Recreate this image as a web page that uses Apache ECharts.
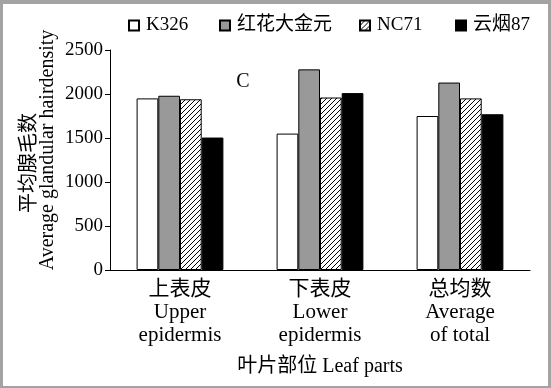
<!DOCTYPE html>
<html>
<head>
<meta charset="utf-8">
<script src="https://cdn.jsdelivr.net/npm/echarts@6/dist/echarts.min.js"></script>
<style>
html,body{margin:0;padding:0;background:#fff;}
#chart{width:551px;height:388px;}
</style>
</head>
<body>
<div id="chart"></div>
<script>
const categories = ['上表皮\nUpper\nepidermis', '下表皮\nLower\nepidermis', '总均数\nAverage\nof total'];
const seriesNames = ['K326', '红花大金元', 'NC71', '云烟87'];
const k326 = [1950, 1550, 1750];
const honghua = [1980, 2280, 2130];
const nc71 = [1940, 1960, 1950];
const yunyan87 = [1505, 2010, 1770];
const yTicks = {min: 0, max: 2500, interval: 500};

const FONT = "'Liberation Serif', 'Noto Sans CJK SC', serif";

function hatch() {
  const c = document.createElement('canvas');
  c.width = 5; c.height = 5;
  const g = c.getContext('2d');
  g.fillStyle = '#fff';
  g.fillRect(0, 0, 5, 5);
  g.strokeStyle = '#000';
  g.lineWidth = 1;
  g.beginPath();
  g.moveTo(-1, 6); g.lineTo(6, -1);
  g.moveTo(-1, 1); g.lineTo(1, -1);
  g.moveTo(4, 6); g.lineTo(6, 4);
  g.stroke();
  return c;
}

const fills = ['#ffffff', '#999999', {image: hatch(), repeat: 'repeat'}, '#000000'];
const values = [k326, honghua, nc71, yunyan87];
const legendLefts = [128, 219, 359, 455];

const chart = echarts.init(document.getElementById('chart'), null, {renderer: 'canvas'});
const option = {
  animation: false,
  backgroundColor: '#fff',
  grid: {left: 110, right: 21, top: 50, bottom: 118},
  legend: seriesNames.map((n, i) => ({
    data: [n],
    left: legendLefts[i],
    top: 16,
    padding: 0,
    icon: 'rect',
    itemWidth: 10,
    itemHeight: 10,
    textStyle: {fontFamily: FONT, fontSize: 19, color: '#000', padding: [0, 0, 0, 2]}
  })),
  xAxis: {
    type: 'category',
    data: categories,
    axisLine: {lineStyle: {color: '#000', width: 1}},
    axisTick: {inside: true, length: 5, lineStyle: {color: '#000'}},
    axisLabel: {fontFamily: FONT, fontSize: 21, color: '#000', lineHeight: 23, margin: 8}
  },
  yAxis: {
    type: 'value',
    min: yTicks.min, max: yTicks.max, interval: yTicks.interval,
    splitLine: {show: false},
    axisLine: {show: true, lineStyle: {color: '#000', width: 1}},
    axisTick: {show: true, length: 5, lineStyle: {color: '#000'}},
    axisLabel: {fontFamily: FONT, fontSize: 19, color: '#000', margin: 7, formatter: v => String(v)}
  },
  series: seriesNames.map((n, i) => ({
    name: n,
    type: 'bar',
    data: values[i],
    barGap: 0,
    barCategoryGap: '38%',
    itemStyle: {color: fills[i], borderColor: '#000', borderWidth: 1}
  })),
  graphic: [
    {type: 'rect', shape: {x: 0, y: 0, width: 551, height: 4}, style: {fill: '#a3a3a3'}, silent: true},
    {type: 'rect', shape: {x: 0, y: 0, width: 3, height: 388}, style: {fill: '#a3a3a3'}, silent: true},
    {type: 'rect', shape: {x: 548, y: 0, width: 3, height: 388}, style: {fill: '#a3a3a3'}, silent: true},
    {type: 'rect', shape: {x: 0, y: 386, width: 551, height: 2}, style: {fill: '#a3a3a3'}, silent: true},
    {type: 'text', x: 243, y: 82, style: {text: 'C', font: "20px 'Liberation Serif'", fill: '#000', align: 'center', verticalAlign: 'middle'}},
    {type: 'text', x: 27, y: 163, rotation: Math.PI / 2, style: {text: '平均腺毛数', font: "20px 'Noto Sans CJK SC'", fill: '#000', align: 'center', verticalAlign: 'middle'}},
    {type: 'text', x: 48, y: 150, rotation: Math.PI / 2, style: {text: 'Average glandular hairdensity', font: "20px 'Liberation Serif'", fill: '#000', align: 'center', verticalAlign: 'middle'}},
    {type: 'text', x: 320, y: 367, style: {text: '叶片部位 Leaf parts', font: "20px 'Liberation Serif', 'Noto Sans CJK SC'", fill: '#000', align: 'center', verticalAlign: 'middle'}}
  ]
};
chart.setOption(option);
</script>
</body>
</html>
